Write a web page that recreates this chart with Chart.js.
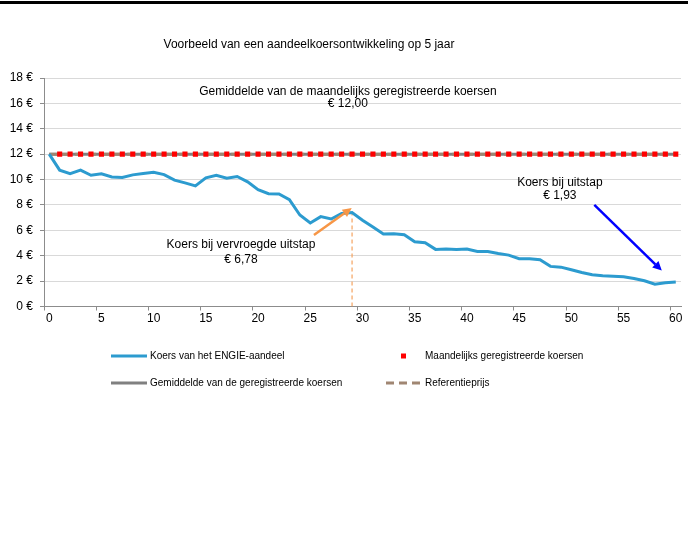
<!DOCTYPE html>
<html>
<head>
<meta charset="utf-8">
<script src="https://cdn.jsdelivr.net/npm/chart.js@4.4.0/dist/chart.umd.min.js"></script>
<style>
  body { margin: 0; background: #fff; }
  #wrap { position: relative; width: 688px; height: 542px; }
  #koersChart { position: absolute; left: 0; top: 0; }
  #topbar { position: absolute; left: 0; top: 1px; width: 688px; height: 3px; background: #000; }
</style>
</head>
<body>
<div id="wrap">
  <canvas id="koersChart" width="688" height="542"></canvas>
  <div id="topbar"></div>
</div>
<script>
// maanden 0..60
var maanden = ['0','1','2','3','4','5','6','7','8','9','10','11','12','13','14','15','16','17','18','19','20',
  '21','22','23','24','25','26','27','28','29','30','31','32','33','34','35','36','37','38','39','40',
  '41','42','43','44','45','46','47','48','49','50','51','52','53','54','55','56','57','58','59','60'];

var koers = [12.00, 10.74, 10.47, 10.74, 10.34, 10.45, 10.21, 10.16, 10.37, 10.47, 10.58,
  10.39, 9.95, 9.74, 9.50, 10.13, 10.34, 10.10, 10.24, 9.82, 9.21,
  8.89, 8.87, 8.42, 7.21, 6.58, 7.08, 6.89, 7.32, 7.40, 6.80,
  6.26, 5.71, 5.74, 5.66, 5.10, 5.03, 4.50, 4.53, 4.50, 4.53,
  4.34, 4.34, 4.18, 4.05, 3.76, 3.76, 3.68, 3.16, 3.10, 2.89,
  2.68, 2.50, 2.42, 2.39, 2.34, 2.21, 2.03, 1.76, 1.87, 1.93];

// maandelijks geregistreerde koersen (maand 1..60)
var maandelijks = [null, 12,12,12,12,12,12,12,12,12,12, 12,12,12,12,12,12,12,12,12,12,
  12,12,12,12,12,12,12,12,12,12, 12,12,12,12,12,12,12,12,12,12,
  12,12,12,12,12,12,12,12,12,12, 12,12,12,12,12,12,12,12,12,12];

var gemiddelde = 12.00;
var referentieprijs = 12.00;
var uitstapMaand = '29';

var yTicks = [0, 2, 4, 6, 8, 10, 12, 14, 16, 18];

// annotaties in data-coordinaten [maand, koers]
var teksten = [
  { regels: ['Gemiddelde van de maandelijks geregistreerde koersen', '€ 12,00'], pos: [28.6, 16.93], stap: 0.97 },
  { regels: ['Koers bij vervroegde uitstap', '€ 6,78'], pos: [18.36, 4.85], stap: 1.18 },
  { regels: ['Koers bij uitstap', '€ 1,93'], pos: [48.9, 9.75], stap: 1.03 }
];
var pijlen = [
  { van: [25.35, 5.64], naar: [28.97, 7.75], kleur: '#F79646' },
  { van: [52.2, 8.01], naar: [58.66, 2.83], kleur: '#0000FF' }
];

var fontFam = "'Liberation Sans', Arial, sans-serif";
Chart.defaults.font.family = fontFam;
Chart.defaults.font.size = 12;
Chart.defaults.color = '#000';

function pijl(ctx, x1, y1, x2, y2, kleur) {
  var a = Math.atan2(y2 - y1, x2 - x1), len = 9, w = 4.5;
  var bx = x2 - len * Math.cos(a), by = y2 - len * Math.sin(a);
  ctx.strokeStyle = kleur; ctx.fillStyle = kleur; ctx.lineWidth = 2.5;
  ctx.beginPath(); ctx.moveTo(x1, y1); ctx.lineTo(bx, by); ctx.stroke();
  ctx.beginPath();
  ctx.moveTo(x2, y2);
  ctx.lineTo(bx + w * Math.sin(a), by - w * Math.cos(a));
  ctx.lineTo(bx - w * Math.sin(a), by + w * Math.cos(a));
  ctx.closePath(); ctx.fill();
}

var extras = {
  id: 'extras',
  afterDatasetsDraw: function(chart) {
    var ctx = chart.ctx, xs = chart.scales.x, ys = chart.scales.y;
    ctx.save();
    pijlen.forEach(function(p) {
      pijl(ctx, xs.getPixelForValue(p.van[0]), ys.getPixelForValue(p.van[1]),
        xs.getPixelForValue(p.naar[0]), ys.getPixelForValue(p.naar[1]), p.kleur);
    });
    ctx.fillStyle = '#000';
    ctx.font = '12px ' + fontFam;
    ctx.textAlign = 'center';
    ctx.textBaseline = 'middle';
    teksten.forEach(function(t) {
      t.regels.forEach(function(r, i) {
        ctx.fillText(r, xs.getPixelForValue(t.pos[0]), ys.getPixelForValue(t.pos[1] - i * t.stap));
      });
    });
    ctx.restore();
  },
  afterDraw: function(chart) {
    var ctx = chart.ctx, ds = chart.data.datasets;
    ctx.save();
    // titel
    ctx.fillStyle = '#000';
    ctx.font = '12px ' + fontFam;
    ctx.textAlign = 'center';
    ctx.textBaseline = 'middle';
    ctx.fillText('Voorbeeld van een aandeelkoersontwikkeling op 5 jaar', 309, 45);

    // legenda, 2 kolommen
    var items = [
      { d: ds[1], x: 111, y: 356 },
      { d: ds[0], x: 386, y: 356 },
      { d: ds[3], x: 111, y: 383 },
      { d: ds[2], x: 386, y: 383 }
    ];
    ctx.font = '10px ' + fontFam;
    ctx.textAlign = 'left';
    items.forEach(function(it) {
      var d = it.d;
      if (d.showLine === false) {
        ctx.fillStyle = d.pointBackgroundColor;
        ctx.fillRect(it.x + 15, it.y - 2.5, 5, 5);
      } else {
        ctx.strokeStyle = d.borderColor;
        ctx.lineWidth = 3;
        ctx.setLineDash(d.borderDash || []);
        ctx.beginPath();
        ctx.moveTo(it.x, it.y);
        ctx.lineTo(it.x + 36, it.y);
        ctx.stroke();
        ctx.setLineDash([]);
      }
      ctx.fillStyle = '#000';
      ctx.fillText(d.label, it.x + (it.x > 300 ? 39 : 39), it.y);
    });
    ctx.restore();
  }
};

new Chart(document.getElementById('koersChart'), {
  type: 'line',
  data: {
    labels: maanden,
    datasets: [
      {
        label: 'Maandelijks geregistreerde koersen',
        data: maandelijks,
        showLine: false,
        pointStyle: 'rect',
        pointRadius: 3.6,
        pointBackgroundColor: '#FF0000',
        pointBorderColor: '#FF0000',
        pointBorderWidth: 0,
        order: 0
      },
      {
        label: 'Koers van het ENGIE-aandeel',
        data: koers,
        borderColor: '#2C9BCF',
        borderWidth: 3,
        pointRadius: 0,
        order: 1
      },
      {
        label: 'Referentieprijs',
        data: [{ x: maanden[0], y: referentieprijs }, { x: maanden[60], y: referentieprijs }],
        borderColor: '#A08672',
        borderDash: [8, 5],
        borderWidth: 3,
        pointRadius: 0,
        order: 2
      },
      {
        label: 'Gemiddelde van de geregistreerde koersen',
        data: [{ x: maanden[0], y: gemiddelde }, { x: maanden[60], y: gemiddelde }],
        borderColor: '#808080',
        borderWidth: 3,
        pointRadius: 0,
        order: 3
      },
      {
        label: 'Vervroegde uitstap',
        data: [{ x: uitstapMaand, y: 0 }, { x: uitstapMaand, y: koers[29] }],
        borderColor: '#F5A35F',
        borderDash: [4, 3],
        borderWidth: 1.2,
        pointRadius: 0,
        order: 4
      }
    ]
  },
  options: {
    responsive: false,
    animation: false,
    layout: { padding: { left: 0, right: 7, top: 78, bottom: 215.5 } },
    plugins: {
      legend: { display: false },
      tooltip: { enabled: false }
    },
    scales: {
      x: {
        offset: true,
        grid: {
          offset: true,
          drawOnChartArea: false,
          tickLength: 4,
          tickColor: function(c) { return c.index % 5 === 0 ? '#8c8c8c' : 'rgba(0,0,0,0)'; }
        },
        border: { color: '#8c8c8c', width: 1 },
        ticks: {
          autoSkip: false,
          maxRotation: 0,
          minRotation: 0,
          padding: 1,
          callback: function(v, i) { return i % 5 === 0 ? maanden[i] : ''; }
        },
        afterFit: function(s) { s.height = 20; }
      },
      y: {
        min: yTicks[0],
        max: yTicks[yTicks.length - 1],
        afterBuildTicks: function(s) { s.ticks = yTicks.map(function(v) { return { value: v }; }); },
        ticks: {
          padding: 7,
          callback: function(v) { return v + ' €'; }
        },
        grid: { color: '#D9D9D9', tickColor: '#8c8c8c', tickLength: 4 },
        border: { color: '#8c8c8c', width: 1 },
        afterFit: function(s) { s.width = 44; }
      }
    }
  },
  plugins: [extras]
});
</script>
</body>
</html>
